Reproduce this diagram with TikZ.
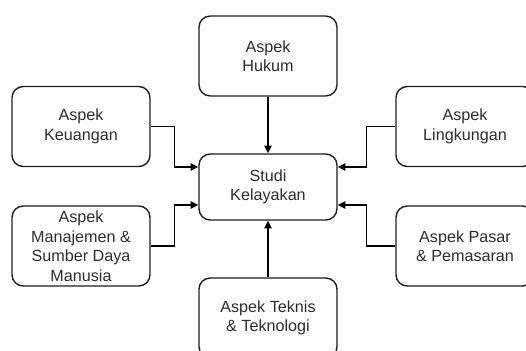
\documentclass[tikz,border=0pt]{standalone}
\usepackage{fontspec}
\setmainfont{Liberation Sans}
\usetikzlibrary{positioning,arrows.meta,calc}
\definecolor{skBorder}{RGB}{30,30,30}
\definecolor{skText}{RGB}{45,45,45}

\begin{document}
\begin{tikzpicture}[
  aspekbox/.style={draw=skBorder, line width=1pt, rounded corners=8pt,
                   fill=white, align=center, text=skText,
                   font=\fontsize{11.5}{13.9}\selectfont,
                   minimum width=3.45cm, minimum height=2.0cm},
  studibox/.style={aspekbox, minimum height=1.65cm},
  mainarr/.style={-{Triangle[length=1.9mm,width=1.8mm]}, line width=1.4pt, black}
]
\useasboundingbox (0,0) rectangle (13.15,-8.775);
\clip (0,0) rectangle (13.15,-8.775);
%% Centre
\node[studibox] (STU) at (6.7,-4.675) {Studi\\Kelayakan};
%% Aspects
\node[aspekbox] (HUK) at (6.7,-1.4)      {Aspek\\Hukum};
\node[aspekbox] (KEU) at (2.025,-3.1625) {Aspek\\Keuangan};
\node[aspekbox] (LIN) at (11.625,-3.1625) {Aspek\\Lingkungan};
\node[aspekbox] (MAN) at (2.025,-6.15)   {Aspek\\Manajemen \&\\Sumber Daya\\Manusia};
\node[aspekbox] (PAS) at (11.625,-6.15)  {Aspek Pasar\\\& Pemasaran};
\node[aspekbox] (TEK) at (6.7,-7.95)     {Aspek Teknis\\\& Teknologi};
%% Entry points on the centre box
\coordinate (inKEU) at ($(STU.west)+(0,0.5)$);
\coordinate (inMAN) at ($(STU.west)+(0,-0.45)$);
\coordinate (inLIN) at ($(STU.east)+(0,0.5)$);
\coordinate (inPAS) at ($(STU.east)+(0,-0.45)$);
%% Connectors
\draw[mainarr] (HUK) -- (STU);
\draw[mainarr] (TEK) -- (STU);
\draw[mainarr] (KEU.east) -| ($(KEU.east)!.5!(inKEU)$) |- (inKEU);
\draw[mainarr] (MAN.east) -| ($(MAN.east)!.5!(inMAN)$) |- (inMAN);
\draw[mainarr] (LIN.west) -| ($(LIN.west)!.5!(inLIN)$) |- (inLIN);
\draw[mainarr] (PAS.west) -| ($(PAS.west)!.5!(inPAS)$) |- (inPAS);
\end{tikzpicture}
\end{document}
